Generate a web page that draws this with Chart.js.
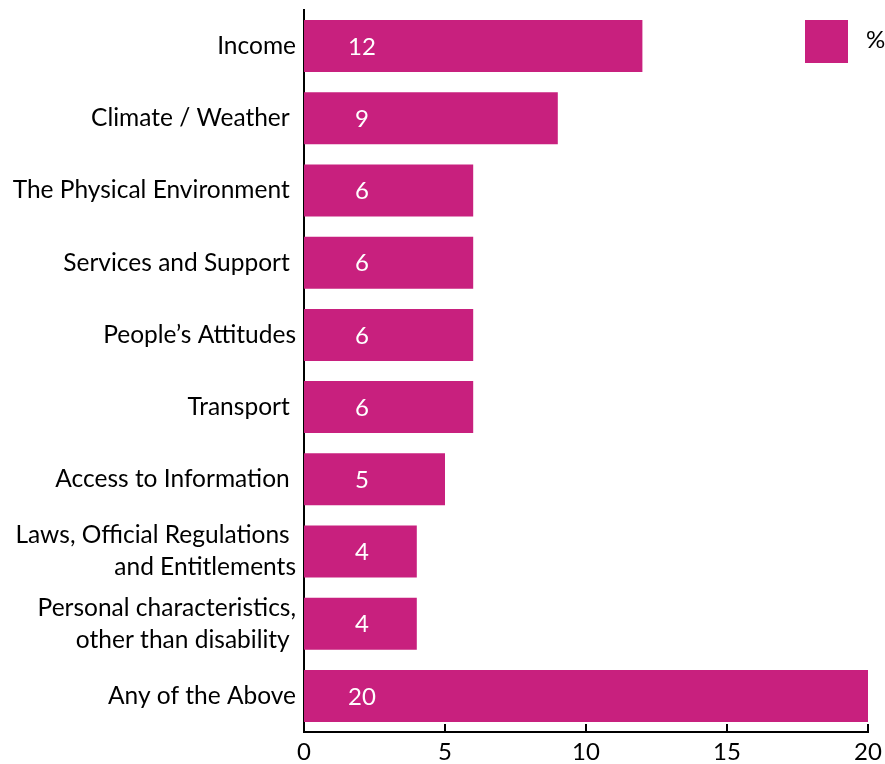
<!DOCTYPE html>
<html>
<head>
<meta charset="utf-8">
<script src="https://cdn.jsdelivr.net/npm/chart.js@4/dist/chart.umd.min.js"></script>
<style>
  html, body { margin: 0; padding: 0; background: #fff; }
  #wrap { width: 885px; height: 764px; }
</style>
</head>
<body>
<div id="wrap"><canvas id="myChart" width="885" height="764"></canvas></div>
<script>
// categories, top to bottom
const categories = [
    'Income',
    'Climate / Weather ',
    'The Physical Environment ',
    'Services and Support ',
    'People\u2019s Attitudes',
    'Transport ',
    'Access to Information ',
    ['Laws, Official Regulations ', 'and Entitlements'],
    ['Personal characteristics,', 'other than disability '],
    'Any of the Above'
];
const percentValues = [12, 9, 6, 6, 6, 6, 5, 4, 4, 20];
const xTicks = [0, 5, 10, 15, 20];
const seriesName = '%';

const barColor = '#C8207E';
const fontFamily = 'Lato, "Open Sans", sans-serif';

// white value labels near the start of each bar, plus inward tick marks and the legend box
const extras = {
    id: 'extras',
    afterDatasetsDraw(chart) {
        const ctx = chart.ctx;
        const xs = chart.scales.x;
        const area = chart.chartArea;

        ctx.save();
        ctx.fillStyle = '#fff';
        ctx.font = '24px ' + fontFamily;
        ctx.textAlign = 'center';
        ctx.textBaseline = 'middle';
        chart.getDatasetMeta(0).data.forEach((bar, idx) => {
            ctx.fillText(String(percentValues[idx]), xs.left + 58, bar.y + 1);
        });

        // tick marks point up into the plot
        ctx.strokeStyle = '#000';
        ctx.lineWidth = 2;
        xTicks.forEach((t) => {
            const px = Math.round(xs.getPixelForValue(t));
            ctx.beginPath();
            ctx.moveTo(px, area.bottom);
            ctx.lineTo(px, area.bottom - 8);
            ctx.stroke();
        });

        // legend
        ctx.fillStyle = barColor;
        ctx.fillRect(805, 20, 43, 43);
        ctx.fillStyle = '#000';
        ctx.textAlign = 'left';
        ctx.fillText(seriesName, 866, 40);
        ctx.restore();
    }
};

const data = {
    labels: categories,
    datasets: [{
        label: seriesName,
        data: percentValues,
        backgroundColor: barColor,
        borderWidth: 0,
        categoryPercentage: 1,
        barPercentage: 0.72
    }]
};

const config = {
    type: 'bar',
    data: data,
    options: {
        indexAxis: 'y',
        responsive: false,
        animation: false,
        layout: { padding: { top: 10, right: 17, left: 0, bottom: 0 } },
        plugins: {
            legend: { display: false },
            tooltip: { enabled: false }
        },
        scales: {
            x: {
                min: 0,
                max: 20,
                afterBuildTicks: (scale) => { scale.ticks = xTicks.map((v) => ({ value: v })); },
                afterFit: (scale) => { scale.height = 32; scale.paddingLeft = 0; scale.paddingRight = 0; },
                grid: { display: false, drawTicks: false },
                border: { display: true, color: '#000', width: 2 },
                ticks: {
                    color: '#000',
                    padding: 8,
                    font: { family: fontFamily, size: 24, lineHeight: 1 }
                }
            },
            y: {
                afterFit: (scale) => { scale.width = 304; scale.paddingTop = 0; scale.paddingBottom = 0; },
                grid: { display: false, drawTicks: false },
                border: { display: true, color: '#000', width: 2 },
                ticks: {
                    color: '#000',
                    padding: 8,
                    font: { family: fontFamily, size: 24.5, lineHeight: 1.3 }
                }
            }
        }
    },
    plugins: [extras]
};

const myChart = new Chart(document.getElementById('myChart'), config);
</script>
</body>
</html>
